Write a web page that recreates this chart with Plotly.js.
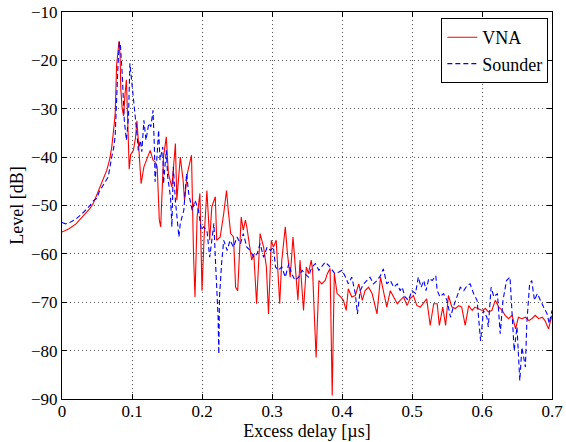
<!DOCTYPE html>
<html>
<head>
<meta charset="utf-8">
<script src="https://cdn.plot.ly/plotly-3.0.1.min.js"></script>
<style>html,body{margin:0;padding:0;background:#fff;}#chart{width:566px;height:442px;}</style>
</head>
<body>
<div id="chart"></div>
<script>
// Excess delay [µs] / Level [dB]
const vnaDelay = [0,0.01,0.02,0.03,0.04,0.045,0.05,0.055,0.06,0.064,0.068,0.071,0.074,0.076,0.078,0.080,0.0815,0.083,0.084,0.086,0.088,0.090,0.092,0.094,0.096,0.098,0.102,0.105,0.107,0.109,0.113,0.117,0.121,0.126,0.130,0.133,0.136,0.139,0.141,0.145,0.149,0.152,0.157,0.162,0.164,0.169,0.173,0.175,0.179,0.183,0.185,0.188,0.190,0.193,0.197,0.200,0.203,0.207,0.211,0.214,0.219,0.221,0.226,0.231,0.235,0.238,0.241,0.245,0.248,0.251,0.254,0.256,0.259,0.262,0.264,0.268,0.271,0.274,0.278,0.283,0.288,0.292,0.295,0.299,0.302,0.306,0.308,0.311,0.314,0.319,0.322,0.326,0.330,0.333,0.337,0.340,0.345,0.349,0.352,0.356,0.358,0.360,0.363,0.367,0.371,0.376,0.379,0.383,0.386,0.389,0.393,0.398,0.402,0.406,0.409,0.414,0.419,0.424,0.429,0.433,0.438,0.443,0.450,0.455,0.459,0.464,0.469,0.474,0.479,0.483,0.488,0.493,0.497,0.502,0.507,0.512,0.517,0.521,0.526,0.531,0.536,0.539,0.544,0.548,0.552,0.557,0.562,0.567,0.571,0.576,0.581,0.586,0.590,0.595,0.600,0.605,0.609,0.614,0.619,0.624,0.629,0.633,0.638,0.643,0.648,0.652,0.657,0.662,0.667,0.671,0.676,0.681,0.686,0.690,0.695,0.700];
const vnaLevel = [-55.5,-54.8,-53.8,-52.3,-50.6,-49.5,-47.8,-46,-44.2,-42.7,-40.5,-38,-34,-31,-21,-17.5,-16,-19,-26,-30,-31.5,-27,-24,-33,-42.5,-39.5,-38.6,-36,-32.5,-36.5,-45.5,-42,-40.6,-38.6,-40.6,-41,-42,-53,-54.4,-40,-35.8,-43.4,-46.2,-37.2,-48.9,-40,-44.8,-48.9,-43.4,-40.6,-39.6,-60.7,-68.9,-52.4,-47.5,-67.6,-56.5,-46.9,-57.2,-50.3,-48.2,-57.2,-56.5,-51.7,-46.9,-51.7,-55.8,-56.5,-66.9,-67.6,-59.9,-52.4,-55.1,-53,-54.4,-58.6,-61.3,-60,-70.3,-55.8,-58.6,-62.7,-72.4,-57.2,-58.6,-57.2,-62,-70.3,-61.3,-54.4,-59.9,-64.8,-56.5,-62.7,-69.6,-61.3,-71.7,-62.7,-64.1,-61.3,-63.4,-71,-81.4,-65.5,-66.2,-65.5,-64.1,-63,-89.3,-64,-68.2,-68.9,-69.6,-71.7,-67.2,-68.9,-68.6,-66.2,-69.6,-67.6,-66.9,-68.2,-72.4,-64.8,-67.6,-71,-67.6,-68.9,-70.3,-69.6,-68.9,-70.7,-69.3,-68.6,-70.7,-71,-70,-69.3,-74.8,-70.3,-70.3,-74.8,-71,-74.8,-68.6,-71,-71.3,-70.7,-71,-74.8,-70.7,-71.7,-71,-71.3,-71.7,-71.3,-72,-71.7,-69.6,-71,-71.7,-72.7,-73.4,-72.7,-75.5,-73.1,-73.4,-73.1,-73.8,-73.4,-72.7,-73.4,-73.1,-73.8,-75.5,-72.7];

const sounderDelay = [0,0.005,0.01,0.02,0.03,0.04,0.045,0.05,0.053,0.057,0.062,0.066,0.071,0.074,0.076,0.078,0.080,0.082,0.0835,0.086,0.087,0.089,0.092,0.095,0.097,0.100,0.102,0.105,0.107,0.109,0.112,0.114,0.117,0.120,0.124,0.127,0.130,0.132,0.133,0.136,0.138,0.140,0.144,0.145,0.149,0.151,0.155,0.157,0.159,0.162,0.164,0.167,0.169,0.174,0.178,0.181,0.186,0.190,0.195,0.199,0.202,0.207,0.211,0.214,0.217,0.219,0.221,0.223,0.224,0.225,0.228,0.231,0.236,0.240,0.245,0.250,0.255,0.259,0.264,0.269,0.274,0.279,0.283,0.288,0.293,0.298,0.302,0.305,0.309,0.314,0.319,0.324,0.328,0.333,0.338,0.343,0.347,0.352,0.357,0.362,0.367,0.371,0.376,0.381,0.386,0.390,0.395,0.400,0.405,0.409,0.414,0.419,0.422,0.426,0.431,0.435,0.440,0.445,0.450,0.455,0.459,0.464,0.469,0.474,0.479,0.483,0.486,0.490,0.495,0.500,0.505,0.509,0.513,0.517,0.520,0.524,0.529,0.534,0.536,0.540,0.545,0.550,0.555,0.559,0.564,0.569,0.574,0.579,0.583,0.588,0.593,0.598,0.600,0.602,0.607,0.609,0.613,0.617,0.622,0.626,0.630,0.635,0.640,0.644,0.646,0.650,0.654,0.657,0.662,0.664,0.668,0.671,0.675,0.679,0.683,0.688,0.693,0.696,0.700];
const sounderLevel = [-53.5,-53.8,-53.6,-52.8,-51.5,-50,-49,-48.5,-47.2,-46.2,-45.2,-44.1,-40,-38,-35.5,-27.5,-21,-16.2,-17,-22.7,-27.5,-32.4,-36.5,-31.7,-20.6,-24.8,-27.5,-31,-35.1,-38.6,-36.5,-38.9,-32.4,-36.5,-33,-33.7,-30.3,-37.9,-45.1,-39.3,-34.4,-40.6,-37.9,-45.5,-38.6,-44.1,-48.2,-54.4,-42,-49,-51.7,-56.5,-53.7,-51,-43.4,-47.5,-51,-48.9,-51,-55.1,-54.4,-55.1,-60.7,-57.2,-53.7,-60.7,-66.9,-73.1,-80.7,-68.9,-62,-57.2,-59.3,-57.2,-58.6,-56.5,-57.9,-55.8,-58.6,-59.3,-60.7,-59.9,-57.9,-60.7,-58.6,-59.3,-58.6,-62.7,-63.4,-62.7,-64.8,-62,-64.1,-65.5,-64.8,-63.4,-64.1,-64.8,-62.7,-62,-63.4,-62.7,-61.7,-62.4,-63.4,-64.1,-63.8,-63.4,-64.8,-66.2,-64.8,-68.2,-72.4,-67.6,-66.2,-65.5,-64.8,-66.2,-65.5,-64.5,-63.1,-66.2,-65.5,-66.9,-66.2,-67.6,-66.9,-68.9,-69.6,-67.6,-68.2,-64.8,-66.9,-65.5,-67.6,-65.1,-65.5,-64.5,-67.6,-68.9,-68.2,-69.6,-73.1,-71,-68.9,-66.9,-67.6,-66.5,-66.2,-68.2,-69.6,-78,-75.1,-71.7,-73.1,-75.1,-66.9,-68.9,-68.2,-76.5,-69.6,-65.5,-64.8,-76.5,-80,-75.1,-86.2,-79.3,-83.4,-74.4,-66.2,-65.5,-69.6,-68.2,-69.6,-71,-72.4,-74.4,-71.7];

const xTicks = [0,0.1,0.2,0.3,0.4,0.5,0.6,0.7];
const yTicks = [-90,-80,-70,-60,-50,-40,-30,-20,-10];

const serif = '"Liberation Serif", "Times New Roman", serif';
const traces = [
  {x: vnaDelay, y: vnaLevel, name: 'VNA', type: 'scatter', mode: 'lines',
   line: {color: '#ff0000', width: 1.1}},
  {x: sounderDelay, y: sounderLevel, name: 'Sounder', type: 'scatter', mode: 'lines',
   line: {color: '#0000ff', width: 1.1, dash: '5px,3px'}}
];
const axisCommon = {
  showline: true, linecolor: '#000', linewidth: 1, mirror: 'ticks',
  ticks: 'inside', ticklen: 5, tickcolor: '#000', tickwidth: 1,
  showgrid: true, gridcolor: '#555', gridwidth: 1, griddash: '1px,3px',
  zeroline: false, automargin: false, tickfont: {family: serif, size: 17, color: '#000'}
};
const layout = {
  width: 566, height: 442,
  margin: {l: 62, r: 14, t: 12, b: 43},
  paper_bgcolor: '#fff', plot_bgcolor: '#fff',
  font: {family: serif, size: 17, color: '#000'},
  showlegend: true,
  legend: {x: 0.9925, y: 0.9845, xanchor: 'right', yanchor: 'top',
    bgcolor: '#fff', bordercolor: '#000', borderwidth: 1,
    font: {family: serif, size: 18, color: '#000'}, tracegroupgap: 0, itemwidth: 30},
  xaxis: Object.assign({}, axisCommon, {
    range: [0, 0.7], tickvals: xTicks, ticktext: xTicks.map(String), ticklabelstandoff: -3,
    title: {text: 'Excess delay [µs]', font: {family: serif, size: 18, color: '#000'}, standoff: 0}
  }),
  yaxis: Object.assign({}, axisCommon, {
    range: [-90, -10], tickvals: yTicks,
    title: {text: 'Level [dB]', font: {family: serif, size: 18, color: '#000'}, standoff: 2}
  })
};
Plotly.newPlot('chart', traces, layout, {displayModeBar: false, staticPlot: true});
</script>
</body>
</html>
